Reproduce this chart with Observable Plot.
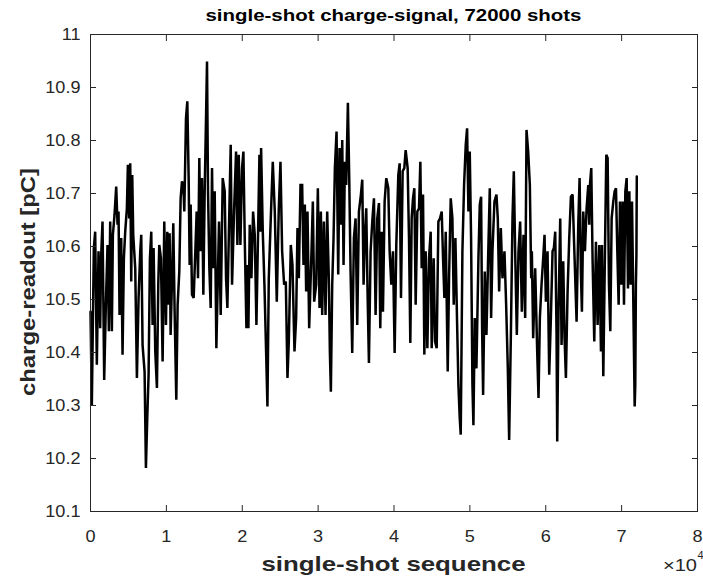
<!DOCTYPE html>
<html>
<head>
<meta charset="utf-8">
<script src="https://cdn.jsdelivr.net/npm/d3@7"></script>
<script src="https://cdn.jsdelivr.net/npm/@observablehq/plot@0.6"></script>
<style>
  body { margin: 0; background: #ffffff; }
  #chart { width: 703px; height: 579px; }
</style>
</head>
<body>
<div id="chart"></div>
<script>
// ---- data (shot index, charge in pC) ----
const shotIndex = [
  1,176,440,616,836,1056,1276,1408,1584,1804,2024,2244,2420,2596,2816,2948,3168,3388,3564,3696,3828,4048,4224,4400,4576,4796,4928,5104,5236,5368,5500,5632,5896,6116,6336,6556,6688,6864,7128,7304,7480,7656,7832,8008,8184,8316,8536,8756,8932,9064,9284,9504,9724,9944,10120,10296,10428,10560,10736,10912,11088,11308,11484,11704,11880,12056,12232,12364,12584,12760,12936,13068,13200,13376,13596,13816,13992,14168,14344,
  14476,14696,14872,15048,15224,15356,15488,15664,15840,16016,16192,16368,16588,16764,16940,17160,17424,17688,17864,18040,18304,18480,18656,18920,19184,19360,19536,19756,19976,20152,20328,20548,20680,20812,20988,21208,21428,21648,21868,22088,22264,22396,22484,22704,22924,23144,23320,23496,23760,24024,24288,24552,24816,25036,25256,25520,25740,25960,26136,26400,26620,26884,27104,27280,27456,27676,27896,28072,28248,28424,28600,28820,
  29128,29304,29480,29744,29964,30184,30360,30536,30756,30976,31196,31416,31548,31680,31856,32032,32208,32428,32648,32824,33044,33176,33352,33528,33704,33924,34100,34276,34496,34716,34936,35156,35376,35640,35816,35992,36168,36344,36520,36696,36916,37136,37356,37576,37796,38016,38192,38368,38544,38764,38984,39248,39424,39644,39864,40084,40304,40568,40744,40920,41140,41360,41536,41800,41976,42152,42328,42504,42680,42856,43076,43296,43472,
  43648,43824,44000,44176,44396,44616,44836,44968,45232,45408,45628,45848,46068,46288,46464,46640,46816,47080,47256,47476,47696,47872,48092,48312,48488,48664,48796,49016,49236,49456,49632,49808,49984,50160,50336,50468,50644,50864,51128,51304,51480,51612,51744,51964,52184,52404,52624,52800,52976,53240,53504,53680,53856,54076,54296,54560,54780,55000,55176,55396,55616,55792,55968,56188,56408,56628,56848,57068,57288,57464,57684,57904,58080,
  58168,58344,58608,58872,59048,59224,59444,59664,59840,60016,60236,60456,60676,60896,61072,61248,61424,61512,61688,61908,62084,62304,62480,62656,62876,63096,63316,63536,63800,64064,64284,64460,64636,64768,64944,65164,65384,65604,65736,65824,66000,66176,66396,66616,66836,67056,67276,67408,67584,67804,67980,68156,68332,68508,68684,68904,69080,69256,69432,69608,69784,69960,70136,70312,70488,70664,70840,71016,71192,71368,71544,71720,71800,71880,71950,72000
];
const chargePC = [
  10.477,10.301,10.597,10.628,10.377,10.591,10.446,10.584,10.647,10.348,10.490,10.603,10.440,10.647,10.440,10.622,10.660,10.713,10.641,10.666,10.471,10.616,10.396,10.578,10.628,10.672,10.754,10.653,10.757,10.534,10.735,10.622,10.559,10.352,10.503,10.591,10.622,10.414,10.364,10.182,10.276,10.358,10.578,10.628,10.452,10.597,10.402,10.333,10.528,10.603,10.578,10.383,10.647,10.452,10.628,10.490,10.625,10.433,10.534,10.644,10.477,10.311,10.490,10.553,10.691,10.723,10.716,10.666,10.842,10.874,10.729,10.565,10.679,10.509,10.503,10.591,10.666,10.540,10.767,
  10.591,10.729,10.509,10.704,10.842,10.949,10.704,10.559,10.484,10.748,10.559,10.704,10.408,10.528,10.647,10.471,10.729,10.704,10.540,10.484,10.672,10.792,10.528,10.666,10.779,10.603,10.773,10.603,10.748,10.779,10.616,10.446,10.565,10.446,10.641,10.540,10.666,10.622,10.452,10.628,10.773,10.628,10.786,10.628,10.528,10.402,10.298,10.540,10.653,10.760,10.666,10.496,10.672,10.760,10.591,10.528,10.534,10.352,10.421,10.603,10.565,10.402,10.465,10.635,10.540,10.716,10.716,10.565,10.679,10.515,10.666,10.446,
  10.591,10.685,10.496,10.528,10.710,10.484,10.666,10.471,10.647,10.471,10.666,10.534,10.402,10.326,10.528,10.616,10.748,10.817,10.547,10.786,10.641,10.801,10.565,10.760,10.716,10.871,10.729,10.553,10.399,10.616,10.653,10.452,10.666,10.698,10.726,10.528,10.622,10.672,10.509,10.380,10.591,10.647,10.691,10.471,10.653,10.682,10.446,10.628,10.477,10.685,10.729,10.710,10.591,10.528,10.591,10.399,10.603,10.735,10.757,10.503,10.742,10.748,10.782,10.748,10.616,10.418,10.653,10.691,10.710,10.490,10.666,10.672,10.760,
  10.559,10.698,10.396,10.591,10.408,10.578,10.628,10.408,10.578,10.421,10.408,10.647,10.653,10.666,10.578,10.503,10.628,10.364,10.540,10.691,10.653,10.490,10.616,10.458,10.339,10.276,10.245,10.591,10.716,10.792,10.823,10.666,10.779,10.616,10.339,10.263,10.465,10.370,10.578,10.679,10.694,10.446,10.320,10.553,10.433,10.578,10.710,10.465,10.591,10.685,10.698,10.653,10.515,10.635,10.540,10.591,10.490,10.370,10.235,10.427,10.653,10.742,10.591,10.433,10.591,10.647,10.477,10.622,10.465,10.820,10.779,10.716,10.540,
  10.591,10.427,10.559,10.402,10.314,10.465,10.528,10.578,10.622,10.496,10.591,10.358,10.465,10.591,10.597,10.628,10.433,10.232,10.484,10.653,10.414,10.572,10.427,10.352,10.515,10.616,10.694,10.698,10.578,10.458,10.641,10.729,10.547,10.477,10.666,10.591,10.672,10.716,10.641,10.716,10.748,10.572,10.421,10.609,10.452,10.603,10.402,10.603,10.355,10.591,10.773,10.767,10.528,10.440,10.653,10.685,10.704,10.710,10.591,10.490,10.685,10.528,10.685,10.490,10.704,10.729,10.521,10.704,10.528,10.685,10.490,10.298,10.339,10.528,10.584,10.732
];

const xTickValues = [0, 10000, 20000, 30000, 40000, 50000, 60000, 70000, 80000];
const xTickLabels = ["0", "1", "2", "3", "4", "5", "6", "7", "8"];
const yTickValues = [10.1, 10.2, 10.3, 10.4, 10.5, 10.6, 10.7, 10.8, 10.9, 11];
const yTickLabels = ["10.1", "10.2", "10.3", "10.4", "10.5", "10.6", "10.7", "10.8", "10.9", "11"];

const titleText = "single-shot charge-signal, 72000 shots";
const xLabelText = "single-shot sequence";
const yLabelText = "charge-readout [pC]";
const xMultiplierBase = "×10";
const xMultiplierExp = "4";

// ---- build ----
const shots = shotIndex.map((s, i) => ({ shot: s, charge: chargePC[i] }));
const ink = "#262626";
const font = "'Liberation Sans', Arial, Helvetica, sans-serif";

const plot = Plot.plot({
  width: 703,
  height: 579,
  marginTop: 34,
  marginBottom: 68,
  marginLeft: 90,
  marginRight: 6,
  style: { fontFamily: font, fontSize: "16px", color: ink, background: "#ffffff", overflow: "visible" },
  x: { domain: [0, 80000] },
  y: { domain: [10.1, 11] },
  marks: [
    Plot.lineY(shots, { x: "shot", y: "charge", stroke: "#000000", strokeWidth: 2.5, strokeLinejoin: "miter", strokeMiterlimit: 2 }),
    Plot.frame({ stroke: ink, strokeWidth: 1 }),
    // inward tick marks on all four sides
    Plot.axisX({ anchor: "bottom", ticks: xTickValues, tickSize: 6, dy: -6, tickFormat: () => "", label: null }),
    Plot.axisX({ anchor: "top", ticks: xTickValues, tickSize: 6, dy: 6, tickFormat: () => "", label: null }),
    Plot.axisY({ anchor: "left", ticks: yTickValues, tickSize: 6, dx: 6, tickFormat: () => "", label: null }),
    Plot.axisY({ anchor: "right", ticks: yTickValues, tickSize: 6, dx: -6, tickFormat: () => "", label: null }),
    // tick labels
    Plot.axisX({ anchor: "bottom", ticks: xTickValues, tickSize: 0, tickPadding: 19,
      tickFormat: (d) => xTickLabels[xTickValues.indexOf(d)], label: null, fill: ink }),
    Plot.axisY({ anchor: "left", ticks: yTickValues, tickSize: 0, tickPadding: 10,
      tickFormat: (d) => yTickLabels[yTickValues.findIndex((v) => Math.abs(v - d) < 1e-9)], label: null, fill: ink })
  ]
});

const tickTexts = Array.from(plot.querySelectorAll("text"));

const xr = plot.scale("x").range;
const cx = (xr[0] + xr[1]) / 2;
const svg = d3.select(plot);

svg.append("text")
  .attr("x", cx).attr("y", 21)
  .attr("text-anchor", "middle")
  .attr("font-family", font).attr("font-weight", "bold").attr("font-size", 16.5)
  .attr("fill", "#000000")
  .attr("textLength", 376).attr("lengthAdjust", "spacingAndGlyphs")
  .text(titleText);

svg.append("text")
  .attr("x", cx).attr("y", 571)
  .attr("text-anchor", "middle")
  .attr("font-family", font).attr("font-weight", "bold").attr("font-size", 21)
  .attr("fill", ink)
  .attr("textLength", 264).attr("lengthAdjust", "spacingAndGlyphs")
  .text(xLabelText);

svg.append("text")
  .attr("transform", `translate(35,282) rotate(-90)`)
  .attr("text-anchor", "middle")
  .attr("font-family", font).attr("font-weight", "bold").attr("font-size", 21)
  .attr("fill", ink)
  .attr("textLength", 228).attr("lengthAdjust", "spacingAndGlyphs")
  .text(yLabelText);

svg.append("text")
  .attr("x", xr[1]).attr("y", 571)
  .attr("text-anchor", "end")
  .attr("font-family", font).attr("font-size", 16)
  .attr("fill", ink)
  .attr("textLength", 34).attr("lengthAdjust", "spacingAndGlyphs")
  .text(xMultiplierBase);

svg.append("text")
  .attr("x", xr[1] + 0.5).attr("y", 559)
  .attr("text-anchor", "start")
  .attr("font-family", font).attr("font-size", 11)
  .attr("fill", ink)
  .text(xMultiplierExp);

document.getElementById("chart").appendChild(plot);

// widen tick labels to match the reference's wider glyphs (positions untouched)
tickTexts.forEach((t) => {
  const w = t.getComputedTextLength();
  if (w > 0) {
    t.setAttribute("textLength", (w * 1.13).toFixed(2));
    t.setAttribute("lengthAdjust", "spacingAndGlyphs");
  }
});
</script>
</body>
</html>
